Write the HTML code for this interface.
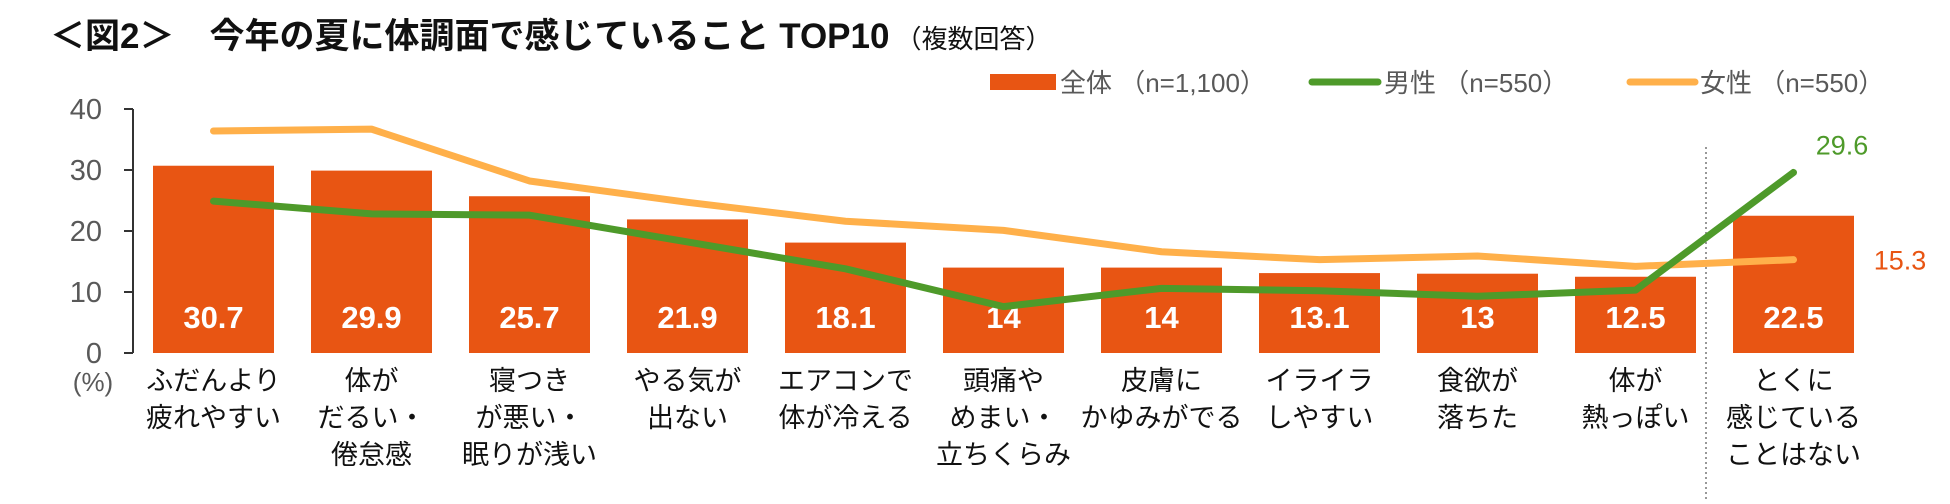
<!DOCTYPE html>
<html><head><meta charset="utf-8"><style>
html,body{margin:0;padding:0;background:#fff;}
body{width:1950px;height:499px;overflow:hidden;font-family:"Liberation Sans","Noto Sans CJK JP",sans-serif;}
svg text{font-family:"Liberation Sans","Noto Sans CJK JP",sans-serif;}
</style></head><body>
<svg id="chart" width="1950" height="499" xmlns="http://www.w3.org/2000/svg">
<text x="50" y="48" font-size="35" font-weight="bold" fill="#111">＜図2＞　今年の夏に体調面で感じていること TOP10<tspan font-size="26" font-weight="normal" dx="6">（複数回答）</tspan></text>
<g>
<rect x="990" y="74" width="66" height="16" fill="#E85513"/>
<text x="1060" y="92" font-size="26" fill="#595959">全体 （n=1,100）</text>
<line x1="1312" y1="82" x2="1378" y2="82" stroke="#4E9A2A" stroke-width="7" stroke-linecap="round"/>
<text x="1384" y="92" font-size="26" fill="#595959">男性 （n=550）</text>
<line x1="1630" y1="82" x2="1695" y2="82" stroke="#FFB04A" stroke-width="7" stroke-linecap="round"/>
<text x="1700" y="92" font-size="26" fill="#595959">女性 （n=550）</text>
</g>
<g id="plot"></g>
</svg>
<script>
const categories=[["ふだんより","疲れやすい"],["体が","だるい・","倦怠感"],["寝つき","が悪い・","眠りが浅い"],["やる気が","出ない"],["エアコンで","体が冷える"],["頭痛や","めまい・","立ちくらみ"],["皮膚に","かゆみがでる"],["イライラ","しやすい"],["食欲が","落ちた"],["体が","熱っぽい"],["とくに","感じている","ことはない"]];
const totalValues=[30.7,29.9,25.7,21.9,18.1,14,14,13.1,13,12.5,22.5];
const totalLabels=["30.7","29.9","25.7","21.9","18.1","14","14","13.1","13","12.5","22.5"];
const maleValues=[24.9,22.8,22.6,18.2,13.8,7.6,10.6,10.2,9.3,10.3,29.6];
const femaleValues=[36.4,36.7,28.2,24.7,21.6,20.1,16.6,15.3,15.9,14.2,15.3];
const yTicks=[0,10,20,30,40];

const NS="http://www.w3.org/2000/svg";
const plot=document.getElementById('plot');
const baseY=353, pxPer=6.1, x0=153, pitch=158, bw=121;
const y=v=>baseY-v*pxPer;
const xc=i=>x0+i*pitch+bw/2;
function mk(tag,attrs,parent){const e=document.createElementNS(NS,tag);for(const k in attrs)e.setAttribute(k,attrs[k]);(parent||plot).appendChild(e);return e;}

const ax=mk('line',{x1:133,y1:y(40),x2:133,y2:baseY,stroke:'#333','stroke-width':2});


yTicks.forEach(t=>{
  const tk=mk('line',{x1:124,y1:y(t),x2:133,y2:y(t),stroke:'#333','stroke-width':2});
  
  
  const tl=mk('text',{x:102,y:y(t)+10,'font-size':29,fill:'#595959','text-anchor':'end'});
  tl.textContent=t;
  
  
});
const unit=mk('text',{x:93,y:391,'font-size':26,fill:'#595959','text-anchor':'middle'});
unit.textContent='(%)';



const sep=mk('line',{x1:1706,y1:147,x2:1706,y2:499,stroke:'#777','stroke-width':1.5,'stroke-dasharray':'2,3'});



totalValues.forEach((v,i)=>{
  const r=mk('rect',{x:x0+i*pitch,y:y(v),width:bw,height:v*pxPer,fill:'#E85513'});
  
  
  const t=mk('text',{x:xc(i),y:328,'font-size':31,'font-weight':'bold',fill:'#fff','text-anchor':'middle'});
  t.textContent=totalLabels[i];
  
  
  const g=mk('text',{x:xc(i),y:390,'font-size':27,fill:'#111','text-anchor':'middle'});
  
  
  categories[i].forEach((ln,j)=>{const s=mk('tspan',{x:xc(i),dy:j?37:0},g);s.textContent=ln;});
});

function line(vals,color,name){
  const p=mk('polyline',{points:vals.map((v,i)=>xc(i)+','+y(v)).join(' '),fill:'none',stroke:color,'stroke-width':7,'stroke-linejoin':'round','stroke-linecap':'round'});
  
  
}
line(femaleValues,'#FFB04A','line-female');
line(maleValues,'#4E9A2A','line-male');

const ml=mk('text',{x:1842,y:y(maleValues[10])-18,'font-size':27,fill:'#4E9A2A','text-anchor':'middle'});
ml.textContent=maleValues[10].toFixed(1);


const fl=mk('text',{x:1900,y:y(femaleValues[10])+10,'font-size':27,fill:'#E85513','text-anchor':'middle'});
fl.textContent=femaleValues[10].toFixed(1);


</script>
</body></html>
